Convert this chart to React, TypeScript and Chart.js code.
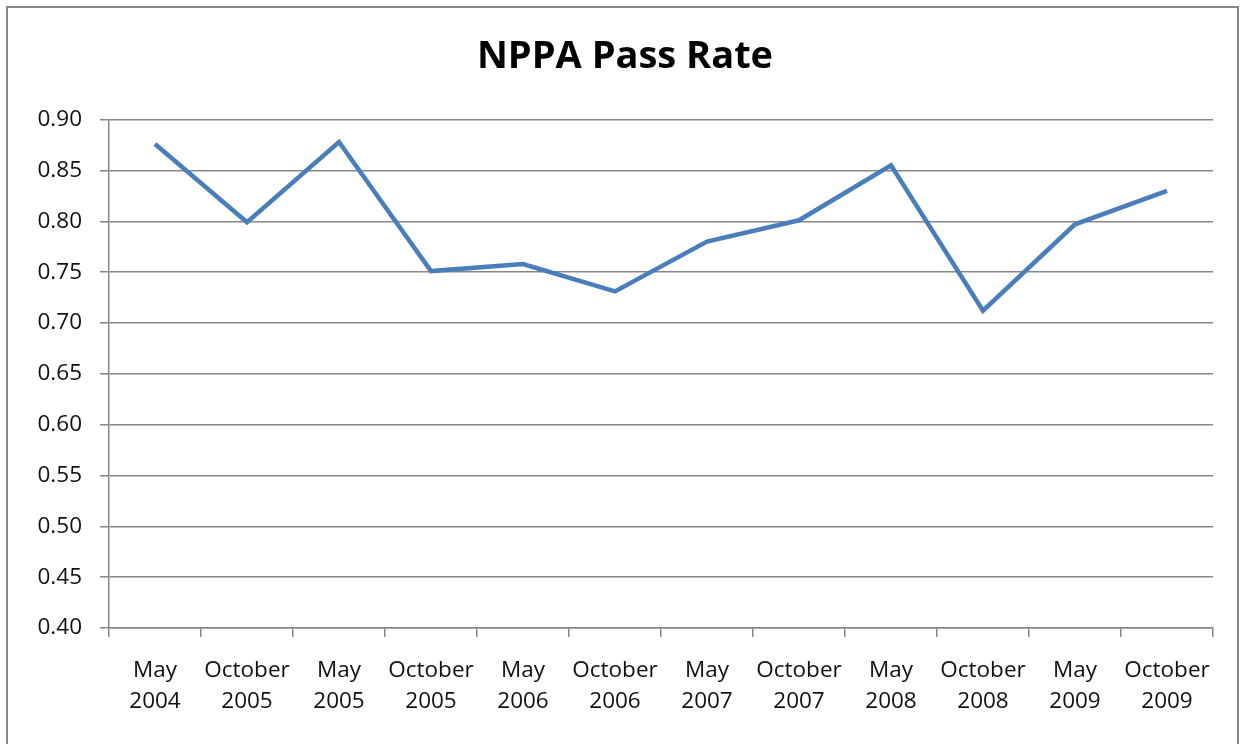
import React, { useEffect, useRef } from 'react';
import { Chart, registerables } from 'chart.js';

Chart.register(...registerables);

const chartTitle = 'NPPA Pass Rate';
const categories: string[][] = [
  ['May', '2004'],
  ['October', '2005'],
  ['May', '2005'],
  ['October', '2005'],
  ['May', '2006'],
  ['October', '2006'],
  ['May', '2007'],
  ['October', '2007'],
  ['May', '2008'],
  ['October', '2008'],
  ['May', '2009'],
  ['October', '2009'],
];
const passRates: number[] = [0.876, 0.799, 0.878, 0.751, 0.758, 0.731, 0.780, 0.801, 0.855, 0.712, 0.797, 0.830];
const yMin = 0.4;
const yMax = 0.9;
const yStep = 0.05;

const FONT = "'Open Sans', 'Noto Sans', sans-serif";

export default function App() {
  const canvasRef = useRef<HTMLCanvasElement | null>(null);

  useEffect(() => {
    if (!canvasRef.current) return;
    const chart = new Chart(canvasRef.current, {
      type: 'line',
      data: {
        labels: categories,
        datasets: [
          {
            label: 'Pass Rate',
            data: passRates,
            borderColor: '#4a7ebb',
            backgroundColor: '#4a7ebb',
            borderWidth: 4.5,
            pointRadius: 0,
            pointHoverRadius: 0,
            tension: 0,
            borderJoinStyle: 'miter',
            yAxisID: 'y',
          },
        ],
      },
      options: {
        responsive: false,
        animation: false,
        layout: { padding: { left: 7, right: 0, top: 0, bottom: 0 } },
        plugins: {
          legend: { display: false },
          tooltip: { enabled: false },
          title: {
            display: true,
            text: chartTitle,
            color: '#000',
            font: { family: FONT, size: 38, weight: 'bold', lineHeight: 1.2 },
            padding: { top: 34, bottom: 40 },
          },
        },
        scales: {
          x: {
            type: 'category',
            offset: true,
            grid: {
              offset: true,
              drawOnChartArea: false,
              drawTicks: true,
              tickLength: 9,
              color: '#878787',
              lineWidth: 1.5,
            },
            border: { display: true, color: '#878787', width: 1.5 },
            ticks: {
              color: '#111',
              font: { family: FONT, size: 22.5, lineHeight: 1.38 },
              padding: 18,
              maxRotation: 0,
              minRotation: 0,
              autoSkip: false,
            },
            afterFit: (scale: any) => {
              scale.height = 116;
            },
          },
          y: {
            min: yMin,
            max: yMax,
            grid: {
              color: '#878787',
              lineWidth: 1.5,
              drawTicks: true,
              tickLength: 9,
            },
            border: { display: true, color: '#878787', width: 1.5 },
            ticks: {
              stepSize: yStep,
              color: '#111',
              font: { family: FONT, size: 22.5 },
              padding: 18,
              callback: (v: any) => Number(v).toFixed(2),
            },
            afterFit: (scale: any) => {
              scale.width = 102;
            },
          },
          yRightSpacer: {
            position: 'right',
            display: true,
            grid: { display: false },
            border: { display: false },
            ticks: { display: false },
            afterFit: (scale: any) => {
              scale.width = 30;
            },
          },
        },
      },
    });
    return () => chart.destroy();
  }, []);

  return (
    <div
      style={{
        position: 'fixed',
        left: 0,
        top: 0,
        width: 1243,
        height: 744,
        background: '#fff',
        overflow: 'hidden',
      }}
    >
      <canvas ref={canvasRef} width={1243} height={744} style={{ position: 'absolute', left: 0, top: 0 }} />
      <div
        style={{
          position: 'absolute',
          left: 6,
          top: 6,
          width: 1229,
          height: 800,
          border: '2px solid #878787',
          pointerEvents: 'none',
        }}
      />
    </div>
  );
}
